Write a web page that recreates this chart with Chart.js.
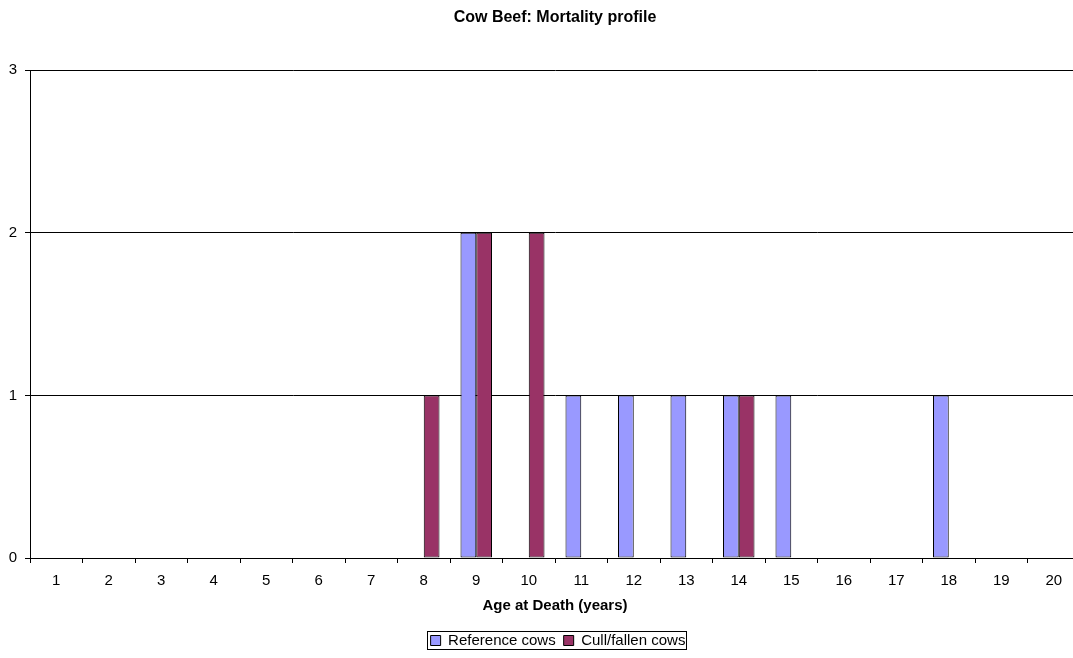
<!DOCTYPE html>
<html><head><meta charset="utf-8">
<script src="https://cdn.jsdelivr.net/npm/chart.js@4/dist/chart.umd.min.js"></script>
<style>html,body{margin:0;padding:0;background:#fff;overflow:hidden}#wrap{width:1073px;height:658px;overflow:hidden}</style>
</head><body><div id="wrap"><canvas id="c" width="1080" height="658"></canvas></div>
<script>
const categories = ['1','2','3','4','5','6','7','8','9','10','11','12','13','14','15','16','17','18','19','20'];
const referenceCows = [0,0,0,0,0,0,0,0,2,0,1,1,1,1,1,0,0,1,0,0];
const cullFallenCows = [0,0,0,0,0,0,0,1,2,2,0,0,0,1,0,0,0,0,0,0];
const yTicks = [0,1,2,3];

const FONT = 'Liberation Sans, Arial, sans-serif';

const layoutTweak = {
  id: 'layoutTweak',
  afterLayout(chart) {
    const lg = chart.legend;
    if (lg) {
      const h = lg.bottom - lg.top;
      const w = lg.right - lg.left;
      const cx = 558, cy = 641.5;
      lg.left = cx - w / 2; lg.right = lg.left + w;
      lg.top = cy - h / 2; lg.bottom = lg.top + h;
    }
    const tb = chart.titleBlock;
    if (tb) {
      const w = tb.right - tb.left;
      const cx = (chart.chartArea.left + chart.chartArea.right) / 2;
      tb.left = cx - w / 2; tb.right = tb.left + w;
    }
  },
  afterDraw(chart) {
    const lg = chart.legend;
    if (!lg || !lg.legendHitBoxes || !lg.legendHitBoxes.length) return;
    let x0 = Infinity, y0 = Infinity, x1 = -Infinity, y1 = -Infinity;
    lg.legendHitBoxes.forEach(b => {
      x0 = Math.min(x0, b.left); y0 = Math.min(y0, b.top);
      x1 = Math.max(x1, b.left + b.width); y1 = Math.max(y1, b.top + b.height);
    });
    const ctx = chart.ctx;
    ctx.save();
    ctx.strokeStyle = '#000';
    ctx.lineWidth = 1;
    ctx.strokeRect(Math.round(x0 - 4) + 0.5, Math.round(y0 - 2) + 0.5, Math.round(x1 - x0 + 4), Math.round(y1 - y0 + 3));
    ctx.restore();
  }
};

new Chart(document.getElementById('c'), {
  type: 'bar',
  data: {
    labels: categories,
    datasets: [
      { label: 'Reference cows', data: referenceCows, backgroundColor: '#9999FF', borderColor: '#000', borderWidth: 1, borderSkipped: false, categoryPercentage: 0.6, barPercentage: 1.0 },
      { label: 'Cull/fallen cows', data: cullFallenCows, backgroundColor: '#993366', borderColor: '#000', borderWidth: 1, borderSkipped: false, categoryPercentage: 0.6, barPercentage: 1.0 }
    ]
  },
  options: {
    responsive: false,
    animation: false,
    layout: { padding: { left: 0, right: 0, top: 0, bottom: 10 } },
    plugins: {
      tooltip: { enabled: false },
      title: {
        display: true,
        text: 'Cow Beef: Mortality profile',
        color: '#000',
        font: { family: FONT, size: 16, weight: 'bold' },
        padding: { top: 8, bottom: 43 }
      },
      legend: {
        position: 'bottom',
        labels: {
          color: '#000',
          font: { family: FONT, size: 15 },
          boxWidth: 10, boxHeight: 10,
          padding: 8
        }
      }
    },
    scales: {
      x: {
        afterFit(s) { s.height = 57; },
        grid: { offset: true, drawOnChartArea: false, drawTicks: true, tickLength: 5, color: '#000' },
        border: { color: '#000', width: 1 },
        ticks: { color: '#000', font: { family: FONT, size: 15 }, padding: 9, maxRotation: 0, autoSkip: false },
        title: { display: true, text: 'Age at Death (years)', color: '#000', font: { family: FONT, size: 15, weight: 'bold' }, padding: { top: 0, bottom: 0 } }
      },
      y: {
        min: 0, max: 3,
        afterBuildTicks(s) { s.ticks = yTicks.map(v => ({ value: v })); },
        afterFit(s) { s.width = 30; },
        grid: { color: '#000', tickLength: 5, drawTicks: true },
        border: { color: '#000', width: 1 },
        ticks: { color: '#000', font: { family: FONT, size: 15 }, padding: 8 }
      }
    }
  },
  plugins: [layoutTweak]
});
</script></body></html>
